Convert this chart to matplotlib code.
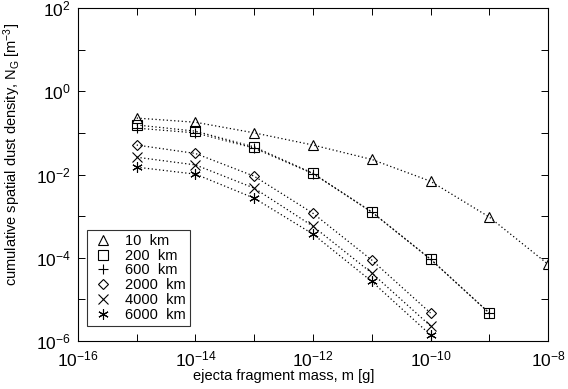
import matplotlib

matplotlib.use("Agg")
import matplotlib.pyplot as plt
import numpy as np
from matplotlib.ticker import FixedLocator, FuncFormatter, NullLocator

plt.rcParams["font.family"] = ["Liberation Sans", "DejaVu Sans"]
plt.rcParams["mathtext.fontset"] = "custom"
plt.rcParams["mathtext.rm"] = "Liberation Sans"
plt.rcParams["mathtext.it"] = "Liberation Sans"

mass = [1e-15, 1e-14, 1e-13, 1e-12, 1e-11, 1e-10, 1e-9, 1e-8]

n_10km = [0.227, 0.18, 0.10, 0.051, 0.023, 0.0069, 9.5e-4, 7e-5]
n_200km = [0.155, 0.11, 0.046, 0.0107, 1.26e-3, 9.3e-5, 4.7e-6]
n_600km = [0.13, 0.10, 0.043, 0.0105, 1.25e-3, 9.2e-5, 4.7e-6]
n_2000km = [0.051, 0.032, 0.0091, 1.17e-3, 8.8e-5, 4.7e-6]
n_4000km = [0.026, 0.017, 0.0047, 5.7e-4, 4.3e-5, 2.3e-6]
n_6000km = [0.015, 0.0102, 0.0027, 3.7e-4, 2.7e-5, 1.4e-6]

series = [
    ("10  km", n_10km, "^"),
    ("200  km", n_200km, "s"),
    ("600  km", n_600km, "+"),
    ("2000  km", n_2000km, "D"),
    ("4000  km", n_4000km, "x"),
    ("6000  km", n_6000km, (6, 2, 0)),
]

fig = plt.figure(figsize=(5.68, 3.89), dpi=100)
ax = fig.add_axes([0.1373, 0.1234, 0.8275, 0.856])

for label, vals, mk in series:
    x = mass[:len(vals)]
    ms = 5.5 if mk == "D" else 7.5
    ax.plot(x, vals, linestyle=(0, (1, 2)), color="black", linewidth=0.9,
            marker=mk, markersize=ms, markerfacecolor="none",
            markeredgecolor="black", markeredgewidth=0.8, label=label)

ax.set_xscale("log")
ax.set_yscale("log")
ax.set_xlim(1e-16, 1e-8)
ax.set_ylim(1e-6, 1e2)


def fmt(v, pos):
    e = int(round(np.log10(v)))
    return r"$10^{%d}$" % e if e % 2 == 0 else ""


ax.xaxis.set_major_locator(FixedLocator([10.0 ** e for e in range(-16, -7)]))
ax.yaxis.set_major_locator(FixedLocator([10.0 ** e for e in range(-6, 3)]))
ax.xaxis.set_major_formatter(FuncFormatter(fmt))
ax.yaxis.set_major_formatter(FuncFormatter(fmt))
ax.xaxis.set_minor_locator(NullLocator())
ax.yaxis.set_minor_locator(NullLocator())
ax.tick_params(which="major", direction="in", length=5, width=0.7,
               top=True, right=True, labelsize=12.5)
ax.tick_params(axis="x", pad=6)
ax.tick_params(axis="y", pad=5)
for s in ax.spines.values():
    s.set_linewidth(0.8)

ax.set_xlabel("ejecta fragment mass, m [g]", fontsize=10.5)
ax.set_ylabel(r"cumulative spatial dust density, N$_\mathregular{G}$ [m$^{-3}$]",
              fontsize=10.5)
ax.xaxis.set_label_coords(0.438, -0.084)
ax.yaxis.set_label_coords(-0.117, 0.56)

leg = ax.legend(loc="lower left", fontsize=10.5, frameon=True, fancybox=False,
                edgecolor="black", handlelength=1.6, handletextpad=0.7,
                labelspacing=0.05, borderpad=0.3, borderaxespad=0,
                bbox_to_anchor=(0.019, 0.045))
leg.get_frame().set_linewidth(0.8)
for h in leg.legend_handles:
    h.set_linestyle("none")

fig.savefig("out.png", dpi=100)
